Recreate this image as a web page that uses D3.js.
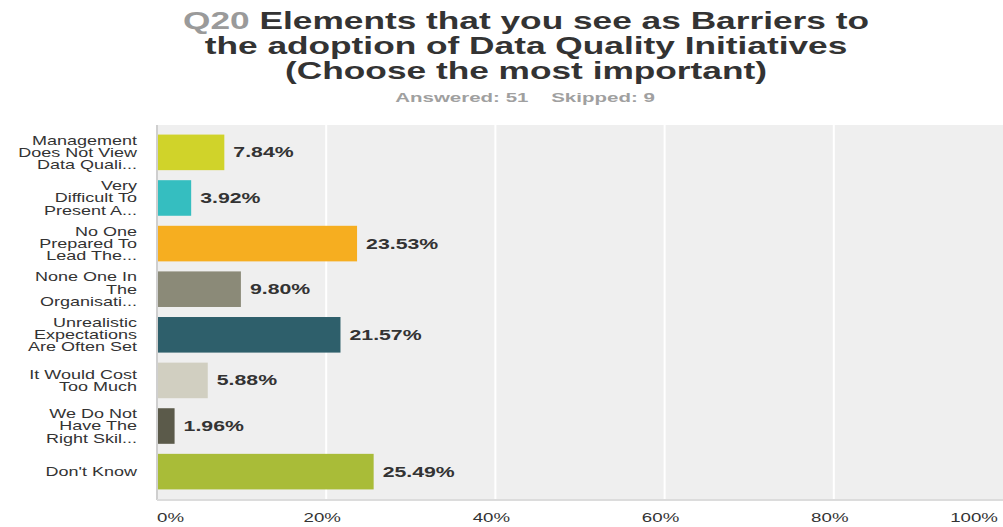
<!DOCTYPE html>
<html><head><meta charset="utf-8">
<script src="https://cdn.jsdelivr.net/npm/d3@7"></script>
<style>body{margin:0;background:#fff}svg{display:block;font-family:"Liberation Sans",Arial,sans-serif}</style>
</head><body><svg id="c" width="1003" height="527"></svg>
<script>
const categories = [
  ["Management","Does Not View","Data Quali..."],
  ["Very","Difficult To","Present A..."],
  ["No One","Prepared To","Lead The..."],
  ["None One In","The","Organisati..."],
  ["Unrealistic","Expectations","Are Often Set"],
  ["It Would Cost","Too Much"],
  ["We Do Not","Have The","Right Skil..."],
  ["Don't Know"]
];
const values = [7.84, 3.92, 23.53, 9.80, 21.57, 5.88, 1.96, 25.49];
const colors = ["#d0d32a","#35bec0","#f6ae20","#8b8a78","#2e5f6b","#d1cfc1","#5b5a4a","#a9bc38"];
const ticks = [0,20,40,60,80,100];
const titleLines = [["Q20 ","Elements that you see as Barriers to"],["","the adoption of Data Quality Initiatives"],["","(Choose the most important)"]];
const subtitle = "Answered: 51\u00a0\u00a0\u00a0\u00a0Skipped: 9";

const SX = 1.44; // horizontal stretch of the reference's text
const svg = d3.select("#c");
const L = 157, R = 1003, T = 125, B = 499;
const x = d3.scaleLinear().domain([0,100]).range([L,R]);
const y = d3.scaleBand().domain(d3.range(values.length)).range([T,B]).paddingInner(0.22).paddingOuter(0.21);
const tr = (px,py,s)=>`translate(${px},${py}) scale(${s||SX},1)`;

// title
const tg = svg.append("g");
titleLines.forEach((ln,i)=>{
  const t = tg.append("text").attr("transform",tr(526,29+i*25,1.47)).attr("text-anchor","middle")
    .attr("font-size",24).attr("font-weight","bold");
  if (ln[0]) t.append("tspan").attr("fill","#9a9a9a").text(ln[0]);
  t.append("tspan").attr("fill","#333").text(ln[1]);
});
svg.append("text").attr("transform",tr(525,102,1.64)).attr("text-anchor","middle").attr("font-size",12.5)
  .attr("font-weight","bold").attr("fill","#a0a0a0").text(subtitle);

// plot background
svg.append("rect").attr("x",L).attr("y",T).attr("width",R-L).attr("height",B-T).attr("fill","#efefef");
// gridlines
svg.append("g").selectAll("line").data(ticks.slice(1,-1)).join("line")
  .attr("x1",d=>x(d)).attr("x2",d=>x(d)).attr("y1",T).attr("y2",B)
  .attr("stroke","#fff").attr("stroke-width",2);
// axis lines
svg.append("line").attr("x1",L).attr("x2",L).attr("y1",T).attr("y2",B+1).attr("stroke","#cfcfcf").attr("stroke-width",2);
svg.append("line").attr("x1",L).attr("x2",R).attr("y1",B+1).attr("y2",B+1).attr("stroke","#dcdcdc").attr("stroke-width",2);

// bars
svg.append("g").selectAll("rect").data(values).join("rect")
  .attr("x",x(0)+1).attr("y",(d,i)=>y(i)).attr("width",d=>x(d)-x(0)).attr("height",y.bandwidth())
  .attr("fill",(d,i)=>colors[i]);
// value labels
svg.append("g").selectAll("text").data(values).join("text")
  .attr("transform",(d,i)=>tr(x(d)+10,y(i)+y.bandwidth()/2,1.52))
  .attr("dy","0.36em")
  .attr("font-size",14).attr("font-weight","bold").attr("fill","#333")
  .text(d=>d.toFixed(2)+"%");
// category labels
const cg = svg.append("g");
categories.forEach((lines,i)=>{
  const cy = y(i)+y.bandwidth()/2;
  const lh = 12.2;
  const t = cg.append("text").attr("transform",tr(137,cy)).attr("text-anchor","end").attr("font-size",12.5).attr("fill","#333");
  lines.forEach((s,j)=>{
    t.append("tspan").attr("x",0).attr("y",(j-(lines.length-1)/2)*lh).attr("dy","0.35em").text(s);
  });
});
// x tick labels
svg.append("g").selectAll("text").data(ticks).join("text")
  .attr("transform",(d,i)=>tr(i===0?x(d):(i===ticks.length-1?x(d)-5:x(d)-4),522))
  .attr("text-anchor",(d,i)=>i===0?"start":(i===ticks.length-1?"end":"middle"))
  .attr("font-size",13).attr("fill","#333").text(d=>d+"%");
</script></body></html>
